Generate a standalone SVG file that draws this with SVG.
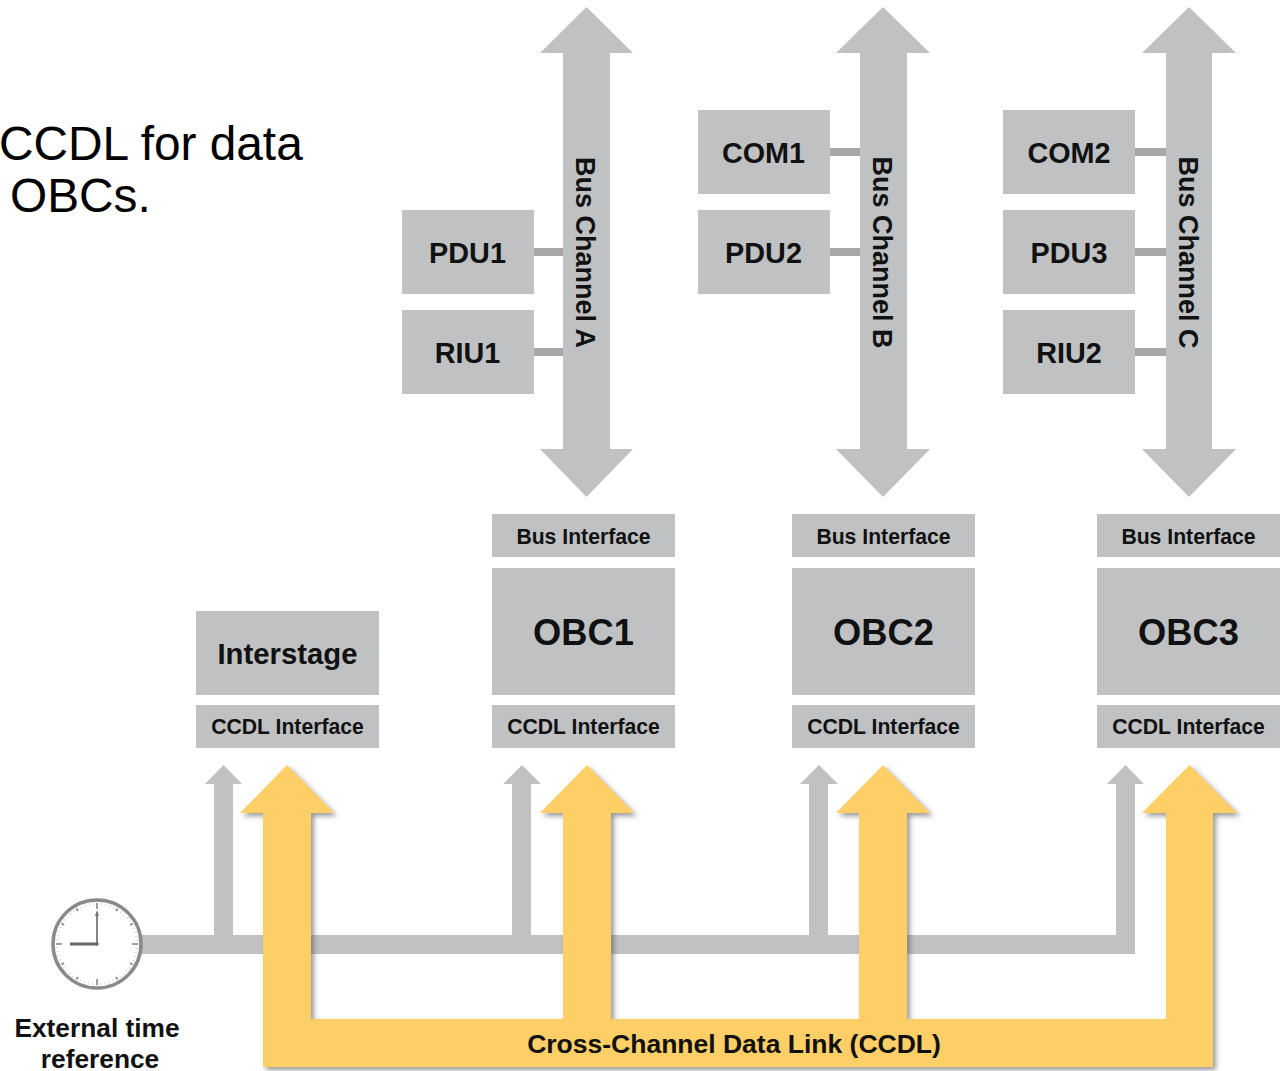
<svg xmlns="http://www.w3.org/2000/svg" width="1286" height="1071" viewBox="0 0 1286 1071">
<defs>
<style>
.box{fill:#C0C1C3}
.stub{fill:#A6A7A9}
.bus{fill:#C0C1C3}
.t{font-family:"Liberation Sans",Arial,sans-serif;font-weight:bold;fill:#111;text-anchor:middle}
.unit{font-size:28.8px}
.ist{font-size:29.3px}
.ifc{font-size:21.2px}
.obc{font-size:36.3px}
.ch{font-size:27px}
.cc{font-size:26.5px}
.lbl{font-size:26.3px}
</style>
<filter id="sh" x="-5%" y="-5%" width="110%" height="110%">
<feDropShadow dx="3" dy="3" stdDeviation="2.5" flood-color="#555" flood-opacity="0.6"/>
</filter>
</defs>
<rect width="1286" height="1071" fill="#fff"/>

<g id="title" font-family="Liberation Sans, Arial, sans-serif" font-size="47.8" fill="#000">
<text x="-1" y="160">CCDL for data</text>
<text x="10" y="212">OBCs.</text>
</g>

<g id="connectors">
<path id="busA" class="bus" d="M586.5,7 L633,53 L610,53 L610,449 L633,449 L586.5,497 L540,449 L563,449 L563,53 L540,53 Z"/>
<path id="busB" class="bus" d="M883,7 L930,53 L907,53 L907,449 L930,449 L883,497 L836,449 L860,449 L860,53 L836,53 Z"/>
<path id="busC" class="bus" d="M1189,7 L1236,53 L1212,53 L1212,449 L1236,449 L1189,497 L1142,449 L1166,449 L1166,53 L1142,53 Z"/>
<rect class="stub" x="534" y="248" width="29" height="8"/>
<rect class="stub" x="534" y="348" width="29" height="8"/>
<rect class="stub" x="830" y="148" width="30" height="8"/>
<rect class="stub" x="830" y="248" width="30" height="8"/>
<rect class="stub" x="1135" y="148" width="31" height="8"/>
<rect class="stub" x="1135" y="248" width="31" height="8"/>
<rect class="stub" x="1135" y="348" width="31" height="8"/>
<path id="time" fill="#C0C1C3" d="M140,954 L1135,954 L1135,784 L1144,784 L1125.5,765 L1107,784 L1116,784 L1116,935 L828,935 L828,784 L838,784 L819,765 L800,784 L809,784 L809,935 L531,935 L531,784 L541,784 L522,765 L503,784 L512,784 L512,935 L233,935 L233,784 L242,784 L223.5,765 L205,784 L214,784 L214,935 L140,935 Z"/>
<path id="ccdl" fill="#FDCF66" filter="url(#sh)" d="M263,1067 L263,813 L240,813 L287,765 L334,813 L311,813 L311,1019 L563,1019 L563,813 L540,813 L587,765 L634,813 L611,813 L611,1019 L859,1019 L859,813 L836,813 L883,765 L930,813 L907,813 L907,1019 L1166,1019 L1166,813 L1142,813 L1189.5,765 L1237,813 L1213,813 L1213,1067 Z"/>
<text class="t cc" x="734" y="1053">Cross-Channel Data Link (CCDL)</text>
<text class="t ch" transform="translate(576,252.5) rotate(90)">Bus Channel A</text>
<text class="t ch" transform="translate(873,252.5) rotate(90)">Bus Channel B</text>
<text class="t ch" transform="translate(1179,252.5) rotate(90)">Bus Channel C</text>
</g>

<g id="pdu1"><rect class="box" x="402" y="210" width="132" height="84"/><text class="t unit" x="467.5" y="262.5">PDU1</text></g>
<g id="riu1"><rect class="box" x="402" y="310" width="132" height="84"/><text class="t unit" x="467.5" y="362.5">RIU1</text></g>
<g id="com1"><rect class="box" x="698" y="110" width="132" height="84"/><text class="t unit" x="763.5" y="162.5">COM1</text></g>
<g id="pdu2"><rect class="box" x="698" y="210" width="132" height="84"/><text class="t unit" x="763.5" y="262.5">PDU2</text></g>
<g id="com2"><rect class="box" x="1003" y="110" width="132" height="84"/><text class="t unit" x="1069" y="162.5">COM2</text></g>
<g id="pdu3"><rect class="box" x="1003" y="210" width="132" height="84"/><text class="t unit" x="1069" y="262.5">PDU3</text></g>
<g id="riu2"><rect class="box" x="1003" y="310" width="132" height="84"/><text class="t unit" x="1069" y="362.5">RIU2</text></g>

<g id="interstage">
<rect class="box" x="196" y="611" width="183" height="84"/><text class="t ist" x="287.5" y="664">Interstage</text>
<rect class="box" x="196" y="705" width="183" height="43"/><text class="t ifc" x="287.5" y="734">CCDL Interface</text>
</g>
<g id="obc1">
<rect class="box" x="492" y="514" width="183" height="43"/><text class="t ifc" x="583.5" y="544">Bus Interface</text>
<rect class="box" x="492" y="568" width="183" height="127"/><text class="t obc" x="583.5" y="645">OBC1</text>
<rect class="box" x="492" y="705" width="183" height="43"/><text class="t ifc" x="583.5" y="734">CCDL Interface</text>
</g>
<g id="obc2">
<rect class="box" x="792" y="514" width="183" height="43"/><text class="t ifc" x="883.5" y="544">Bus Interface</text>
<rect class="box" x="792" y="568" width="183" height="127"/><text class="t obc" x="883.5" y="645">OBC2</text>
<rect class="box" x="792" y="705" width="183" height="43"/><text class="t ifc" x="883.5" y="734">CCDL Interface</text>
</g>
<g id="obc3">
<rect class="box" x="1097" y="514" width="183" height="43"/><text class="t ifc" x="1188.5" y="544">Bus Interface</text>
<rect class="box" x="1097" y="568" width="183" height="127"/><text class="t obc" x="1188.5" y="645">OBC3</text>
<rect class="box" x="1097" y="705" width="183" height="43"/><text class="t ifc" x="1188.5" y="734">CCDL Interface</text>
</g>

<g id="clock">
<circle cx="97" cy="944" r="44" fill="#fff" stroke="#8A8A8A" stroke-width="3.5"/>
<circle cx="97" cy="944" r="40" fill="none" stroke="#C8C8C8" stroke-width="3" stroke-dasharray="0.6 3.589"/>
<g stroke="#8A8A8A" stroke-width="1.6">
<line x1="97" y1="903" x2="97" y2="909"/><line x1="97" y1="979" x2="97" y2="985"/>
<line x1="56" y1="944" x2="62" y2="944"/><line x1="132" y1="944" x2="138" y2="944"/>
<line x1="117.5" y1="908.5" x2="116" y2="911"/><line x1="132.5" y1="923.5" x2="130" y2="925"/>
<line x1="132.5" y1="964.5" x2="130" y2="963"/><line x1="117.5" y1="979.5" x2="116" y2="977"/>
<line x1="76.5" y1="979.5" x2="78" y2="977"/><line x1="61.5" y1="964.5" x2="64" y2="963"/>
<line x1="61.5" y1="923.5" x2="64" y2="925"/><line x1="76.5" y1="908.5" x2="78" y2="911"/>
</g>
<line x1="97" y1="944" x2="70" y2="944" stroke="#666" stroke-width="3"/>
<line x1="97" y1="944" x2="97" y2="912" stroke="#777" stroke-width="1.8"/>
<path d="M97,910 L99,916 L95,916 Z" fill="#777"/>
<circle cx="97" cy="944" r="1.8" fill="#666"/>
</g>
<g id="clock-label">
<text class="t lbl" x="97" y="1037">External time</text>
<text class="t lbl" x="100" y="1068">reference</text>
</g>
</svg>
